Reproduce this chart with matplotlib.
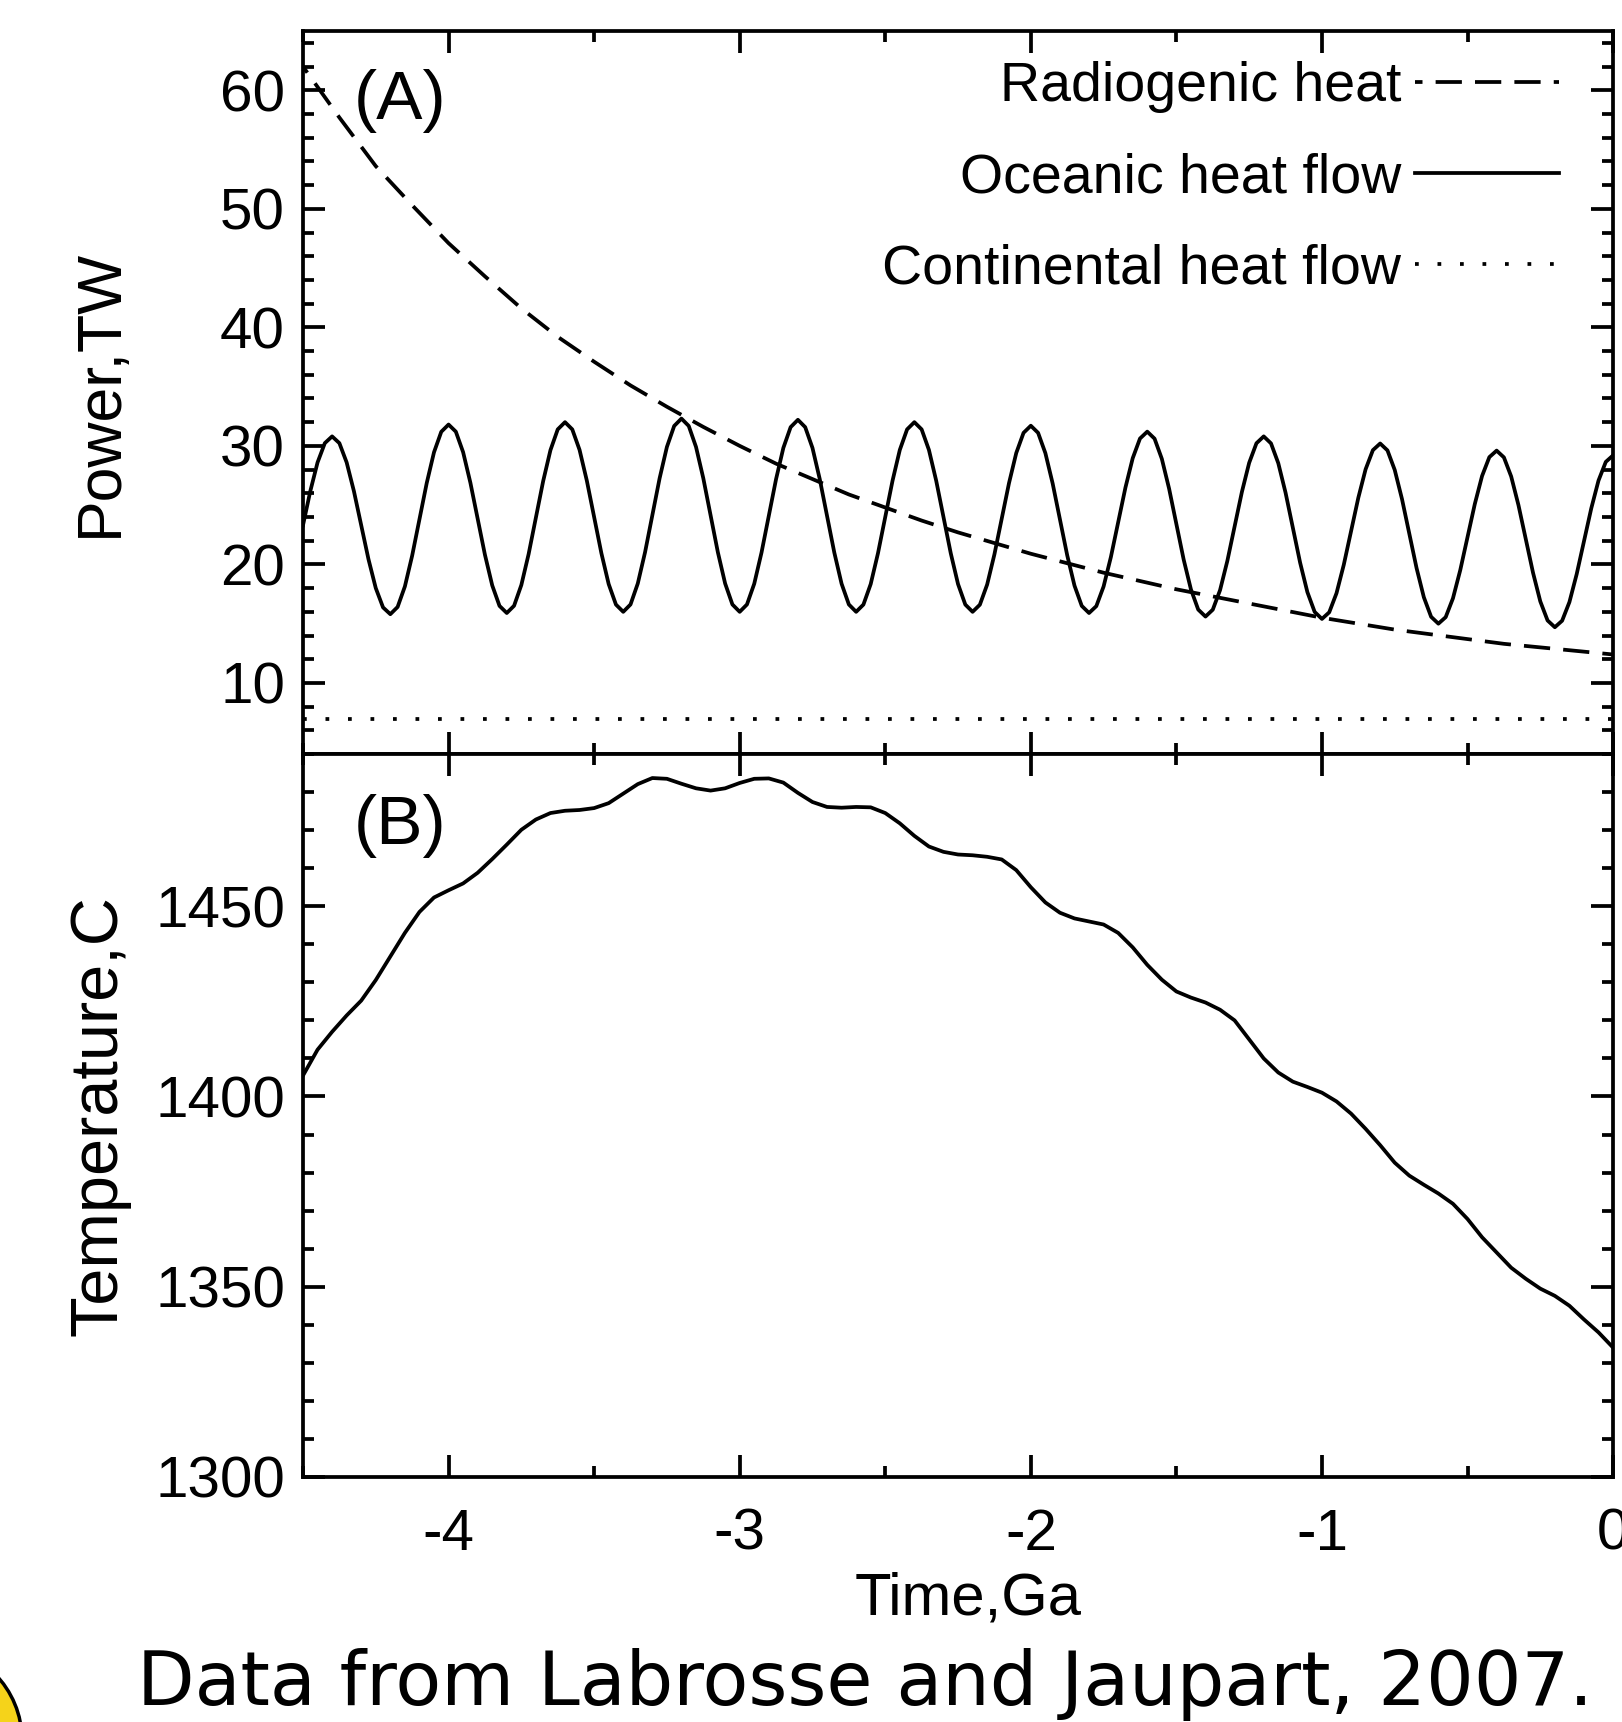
import numpy as np
import matplotlib
matplotlib.use("Agg")
import matplotlib.pyplot as plt
from matplotlib.patches import Circle
from matplotlib.ticker import MultipleLocator

# Panel A: power budget, TW
TIME_OCEANIC = np.linspace(-4.5, 0.0, 181)      # every 25 Myr
OCEANIC_HEAT = [
    23.30, 26.17, 28.60, 30.23, 30.80,
    30.23, 28.60, 26.17, 23.30, 20.43, 18.00, 16.37, 15.80,
    16.41, 18.14, 20.74, 23.80, 26.86, 29.46, 31.19, 31.80,
    31.20, 29.47, 26.89, 23.85, 20.81, 18.23, 16.50, 15.90,
    16.51, 18.26, 20.87, 23.95, 27.03, 29.64, 31.39, 32.00,
    31.39, 29.66, 27.06, 24.00, 20.94, 18.34, 16.61, 16.00,
    16.62, 18.39, 21.03, 24.15, 27.27, 29.91, 31.68, 32.30,
    31.68, 29.91, 27.27, 24.15, 21.03, 18.39, 16.62, 16.00,
    16.62, 18.37, 21.00, 24.10, 27.20, 29.83, 31.58, 32.20,
    31.58, 29.83, 27.20, 24.10, 21.00, 18.37, 16.62, 16.00,
    16.61, 18.34, 20.94, 24.00, 27.06, 29.66, 31.39, 32.00,
    31.39, 29.66, 27.06, 24.00, 20.94, 18.34, 16.61, 16.00,
    16.60, 18.30, 20.85, 23.85, 26.85, 29.40, 31.10, 31.70,
    31.10, 29.39, 26.83, 23.80, 20.77, 18.21, 16.50, 15.90,
    16.48, 18.14, 20.62, 23.55, 26.48, 28.96, 30.62, 31.20,
    30.61, 28.91, 26.39, 23.40, 20.41, 17.89, 16.19, 15.60,
    16.18, 17.83, 20.29, 23.20, 26.11, 28.57, 30.22, 30.80,
    30.21, 28.54, 26.05, 23.10, 20.15, 17.66, 15.99, 15.40,
    15.96, 17.57, 19.97, 22.80, 25.63, 28.03, 29.64, 30.20,
    29.62, 27.97, 25.51, 22.60, 19.69, 17.23, 15.58, 15.00,
    15.55, 17.14, 19.51, 22.30, 25.09, 27.46, 29.05, 29.60,
    29.03, 27.42, 25.00, 22.15, 19.30, 16.88, 15.27, 14.70,
    15.25, 16.82, 19.18, 21.95, 24.72, 27.08, 28.65, 29.20,
]

TIME_RADIO = np.linspace(-4.5, 0.0, 37)         # every 125 Myr
RADIOGENIC_HEAT = [
    62.0, 57.7, 53.6, 50.3, 47.1, 44.3, 41.6, 39.2, 37.1, 35.1,
    33.3, 31.6, 30.0, 28.5, 27.2, 25.9, 24.8, 23.7, 22.7, 21.8,
    20.9, 20.1, 19.3, 18.6, 17.9, 17.3, 16.7, 16.1, 15.5, 15.0,
    14.5, 14.1, 13.7, 13.3, 13.0, 12.7, 12.4,
]

TIME_CONT = [-4.5, 0.0]
CONTINENTAL_HEAT = [7.0, 7.0]

# Panel B: mantle temperature, C
TIME_TEMP = np.linspace(-4.5, 0.0, 91)          # every 50 Myr
TEMPERATURE = [
    1405.5, 1412.3, 1417.0, 1421.3, 1425.2, 1430.6, 1436.8, 1443.0, 1448.5, 1452.3,
    1454.2, 1456.0, 1458.8, 1462.4, 1466.2, 1470.1, 1472.8, 1474.5, 1475.1, 1475.3,
    1475.8, 1477.1, 1479.6, 1482.1, 1483.7, 1483.5, 1482.2, 1481.0, 1480.4, 1481.0,
    1482.4, 1483.5, 1483.6, 1482.5, 1479.8, 1477.4, 1476.1, 1475.9, 1476.1, 1476.0,
    1474.5, 1471.8, 1468.5, 1465.7, 1464.3, 1463.6, 1463.4, 1463.0, 1462.3, 1459.5,
    1455.0, 1451.0, 1448.3, 1446.8, 1446.0, 1445.2, 1443.0, 1439.2, 1434.6, 1430.7,
    1427.6, 1426.0, 1424.7, 1422.8, 1420.0, 1415.0, 1410.0, 1406.3, 1403.9, 1402.5,
    1401.0, 1398.7, 1395.5, 1391.5, 1387.2, 1382.6, 1379.2, 1376.8, 1374.5, 1371.8,
    1367.8, 1363.0, 1359.0, 1355.0, 1352.1, 1349.5, 1347.6, 1345.0, 1341.4, 1338.0,
    1334.0,
]

X_TICKS = [-4, -3, -2, -1, 0]
CAPTION = "Data from Labrosse and Jaupart, 2007."
# ───────────────────────────────────────────────────────────────

LW = 2.7
TICK_FS = 42


def style_axis(ax, y_major, y_minor):
    ax.set_xlim(-4.5, 0)
    ax.xaxis.set_major_locator(MultipleLocator(1))
    ax.xaxis.set_minor_locator(MultipleLocator(0.5))
    ax.yaxis.set_major_locator(MultipleLocator(y_major))
    ax.yaxis.set_minor_locator(MultipleLocator(y_minor))
    ax.tick_params(which="both", direction="in", top=True, right=True,
                   width=LW, color="black")
    ax.tick_params(which="major", length=16, labelsize=TICK_FS, pad=13)
    ax.tick_params(which="minor", length=8)
    for s in ax.spines.values():
        s.set_linewidth(LW)


def main():
    plt.rcParams["font.family"] = ["Liberation Sans", "DejaVu Sans"]

    fig = plt.figure(figsize=(16.22, 17.22), dpi=100)
    ax1 = fig.add_axes([0.1868, 0.5621, 0.8077, 0.4199])
    ax2 = fig.add_axes([0.1868, 0.1423, 0.8077, 0.4198])

    # ── (A) power ──
    ax1.plot(TIME_RADIO, RADIOGENIC_HEAT, color="black", lw=LW,
             linestyle=(5, (7, 3.5)), label="Radiogenic heat")
    ax1.plot(TIME_OCEANIC, OCEANIC_HEAT, color="black", lw=LW,
             label="Oceanic heat flow")
    ax1.plot(TIME_CONT, CONTINENTAL_HEAT, color="black", lw=LW,
             linestyle=(0, (1, 5)), label="Continental heat flow")
    ax1.set_ylim(4, 65)
    style_axis(ax1, 10, 2)
    ax1.tick_params(labelbottom=False)
    ax1.set_ylabel("Power,TW", fontsize=45)
    ax1.yaxis.set_label_coords(-0.132, 0.5)
    ax1.text(0.039, 0.903, "(A)", transform=ax1.transAxes,
             fontsize=50, ha="left", va="center")
    ax1.legend(loc="upper right", bbox_to_anchor=(0.959, 0.958),
               markerfirst=False, frameon=False, fontsize=40,
               handlelength=2.6, handletextpad=0.25, labelspacing=0.7,
               borderpad=0, borderaxespad=0)

    # ── (B) temperature ──
    ax2.plot(TIME_TEMP, TEMPERATURE, color="black", lw=LW)
    ax2.set_ylim(1300, 1490)
    style_axis(ax2, 50, 10)
    ax2.set_xticks(X_TICKS)
    ax2.set_xticklabels([str(t) for t in X_TICKS])
    ax2.tick_params(axis="x", which="major", pad=22)
    ax2.set_ylabel("Temperature,C", fontsize=48)
    ax2.yaxis.set_label_coords(-0.132, 0.5)
    ax2.set_xlabel("Time,Ga", fontsize=43)
    ax2.xaxis.set_label_coords(0.508, -0.131)
    ax2.text(0.039, 0.900, "(B)", transform=ax2.transAxes,
             fontsize=50, ha="left", va="center")

    # caption + the bit of yellow badge poking in at the corner
    fig.text(0.0845, 0.0099, CAPTION, family="DejaVu Sans", fontsize=54,
             ha="left", va="baseline")
    fig.add_artist(Circle((-0.72, -0.18), 0.94, transform=fig.dpi_scale_trans,
                          facecolor="#f5d31a", edgecolor="black", lw=2.5))

    fig.savefig("out.png", dpi=100, facecolor="white")


if __name__ == "__main__":
    main()
